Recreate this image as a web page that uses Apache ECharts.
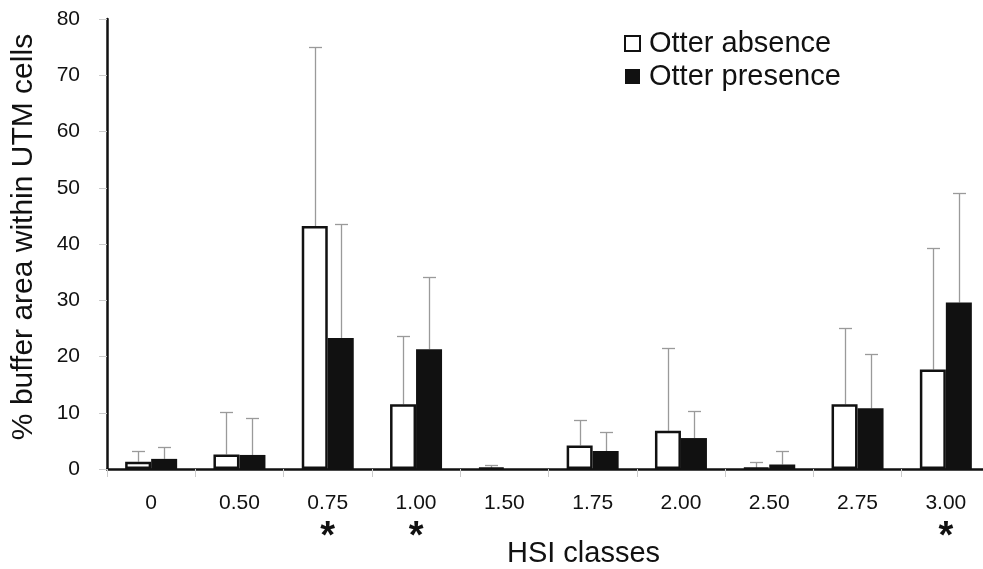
<!DOCTYPE html>
<html><head><meta charset="utf-8">
<script src="https://cdn.jsdelivr.net/npm/echarts@6/dist/echarts.min.js"></script>
<style>html,body{margin:0;padding:0;background:#fff}#c{width:983px;height:569px}</style>
</head><body><div id="c"></div>
<script>
const categories = ['0','0.50','0.75','1.00','1.50','1.75','2.00','2.50','2.75','3.00'];
const stars = ['','','*','*','','','','','','*'];
const absence = [1.3, 2.6, 43.2, 11.5, 0.2, 4.2, 6.8, 0.2, 11.5, 17.7];
const absenceErr = [3.2, 10.1, 75.1, 23.6, 0.8, 8.8, 21.6, 1.2, 25.0, 39.2];
const presence = [1.8, 2.5, 23.3, 21.3, 0, 3.2, 5.5, 0.8, 10.8, 29.6];
const presenceErr = [3.9, 9.1, 43.5, 34.2, null, 6.5, 10.4, 3.2, 20.4, 49.1];
const yTicks = {min: 0, max: 80, interval: 10};

const FONT = 'Liberation Sans, Arial, sans-serif';
const BW = 26;
function errSeries(vals, errs, offset) {
  const data = [];
  vals.forEach((v, i) => { if (errs[i] != null) data.push([i, v, errs[i]]); });
  return {
    type: 'custom', silent: true, z: 1,
    encode: {x: 0, y: [1, 2]},
    data: data,
    renderItem: function (params, api) {
      const base = api.coord([api.value(0), api.value(1)]);
      const top = api.coord([api.value(0), api.value(2)]);
      const x = Math.round(base[0] + offset) + 0.5;
      const yt = Math.round(top[1]) + 0.5;
      const st = {stroke: '#9a9a9a', lineWidth: 1.3};
      return {type: 'group', children: [
        {type: 'line', shape: {x1: x, y1: base[1], x2: x, y2: yt}, style: st},
        {type: 'line', shape: {x1: x - 6.5, y1: yt, x2: x + 6.5, y2: yt}, style: st}
      ]};
    }
  };
}

const chart = echarts.init(document.getElementById('c'));
chart.setOption({
  animation: false,
  textStyle: {fontFamily: FONT},
  grid: {left: 107, right: -7, top: 19, bottom: 100, containLabel: false, outerBoundsMode: 'none'},
  legend: {
    orient: 'vertical', left: 619, top: 24, itemWidth: 15, itemHeight: 15, itemGap: 4,
    textStyle: {fontSize: 29, color: '#111', fontFamily: FONT, padding: [0, 0, 0, 4]},
    data: [
      {name: 'Otter absence', icon: 'rect', itemStyle: {color: '#fff', borderColor: '#111', borderWidth: 2}},
      {name: 'Otter presence', icon: 'rect', itemStyle: {color: '#111', borderWidth: 0}}
    ]
  },
  xAxis: [{
    type: 'category', data: categories,
    name: 'HSI classes', nameLocation: 'middle', nameGap: 70, nameMoveOverlap: false,
    nameTextStyle: {fontSize: 29, color: '#111', padding: [0, 0, 0, 70]},
    axisLine: {lineStyle: {color: '#111', width: 2.5}},
    axisTick: {show: true, length: 8, lineStyle: {color: '#ccc'}},
    axisLabel: {fontSize: 21, color: '#111', margin: 24}
  }, {
    type: 'category', data: stars, position: 'bottom',
    axisLine: {show: false}, axisTick: {show: false}, splitLine: {show: false},
    axisLabel: {fontSize: 38, fontWeight: 'bold', color: '#111', margin: 50}
  }],
  yAxis: {
    type: 'value', min: yTicks.min, max: yTicks.max, interval: yTicks.interval,
    name: '% buffer area within UTM cells', nameLocation: 'middle', nameGap: 68, nameMoveOverlap: false,
    nameTextStyle: {fontSize: 30, color: '#111', padding: [0, 0, 0, 14]},
    axisLine: {show: true, lineStyle: {color: '#111', width: 2.5}},
    axisTick: {show: true, length: 8, lineStyle: {color: '#ccc'}},
    splitLine: {show: false},
    axisLabel: {fontSize: 21, color: '#111', margin: 27}
  },
  series: [
    {name: 'Otter absence', type: 'bar', data: absence, barWidth: BW, barGap: '0%', z: 2,
     itemStyle: {color: '#fff', borderColor: '#111', borderWidth: 2.5}},
    {name: 'Otter presence', type: 'bar', data: presence, barWidth: BW, barGap: '0%', z: 2,
     itemStyle: {color: '#111'}},
    errSeries(absence, absenceErr, -BW / 2),
    errSeries(presence, presenceErr, BW / 2)
  ]
});
</script></body></html>
